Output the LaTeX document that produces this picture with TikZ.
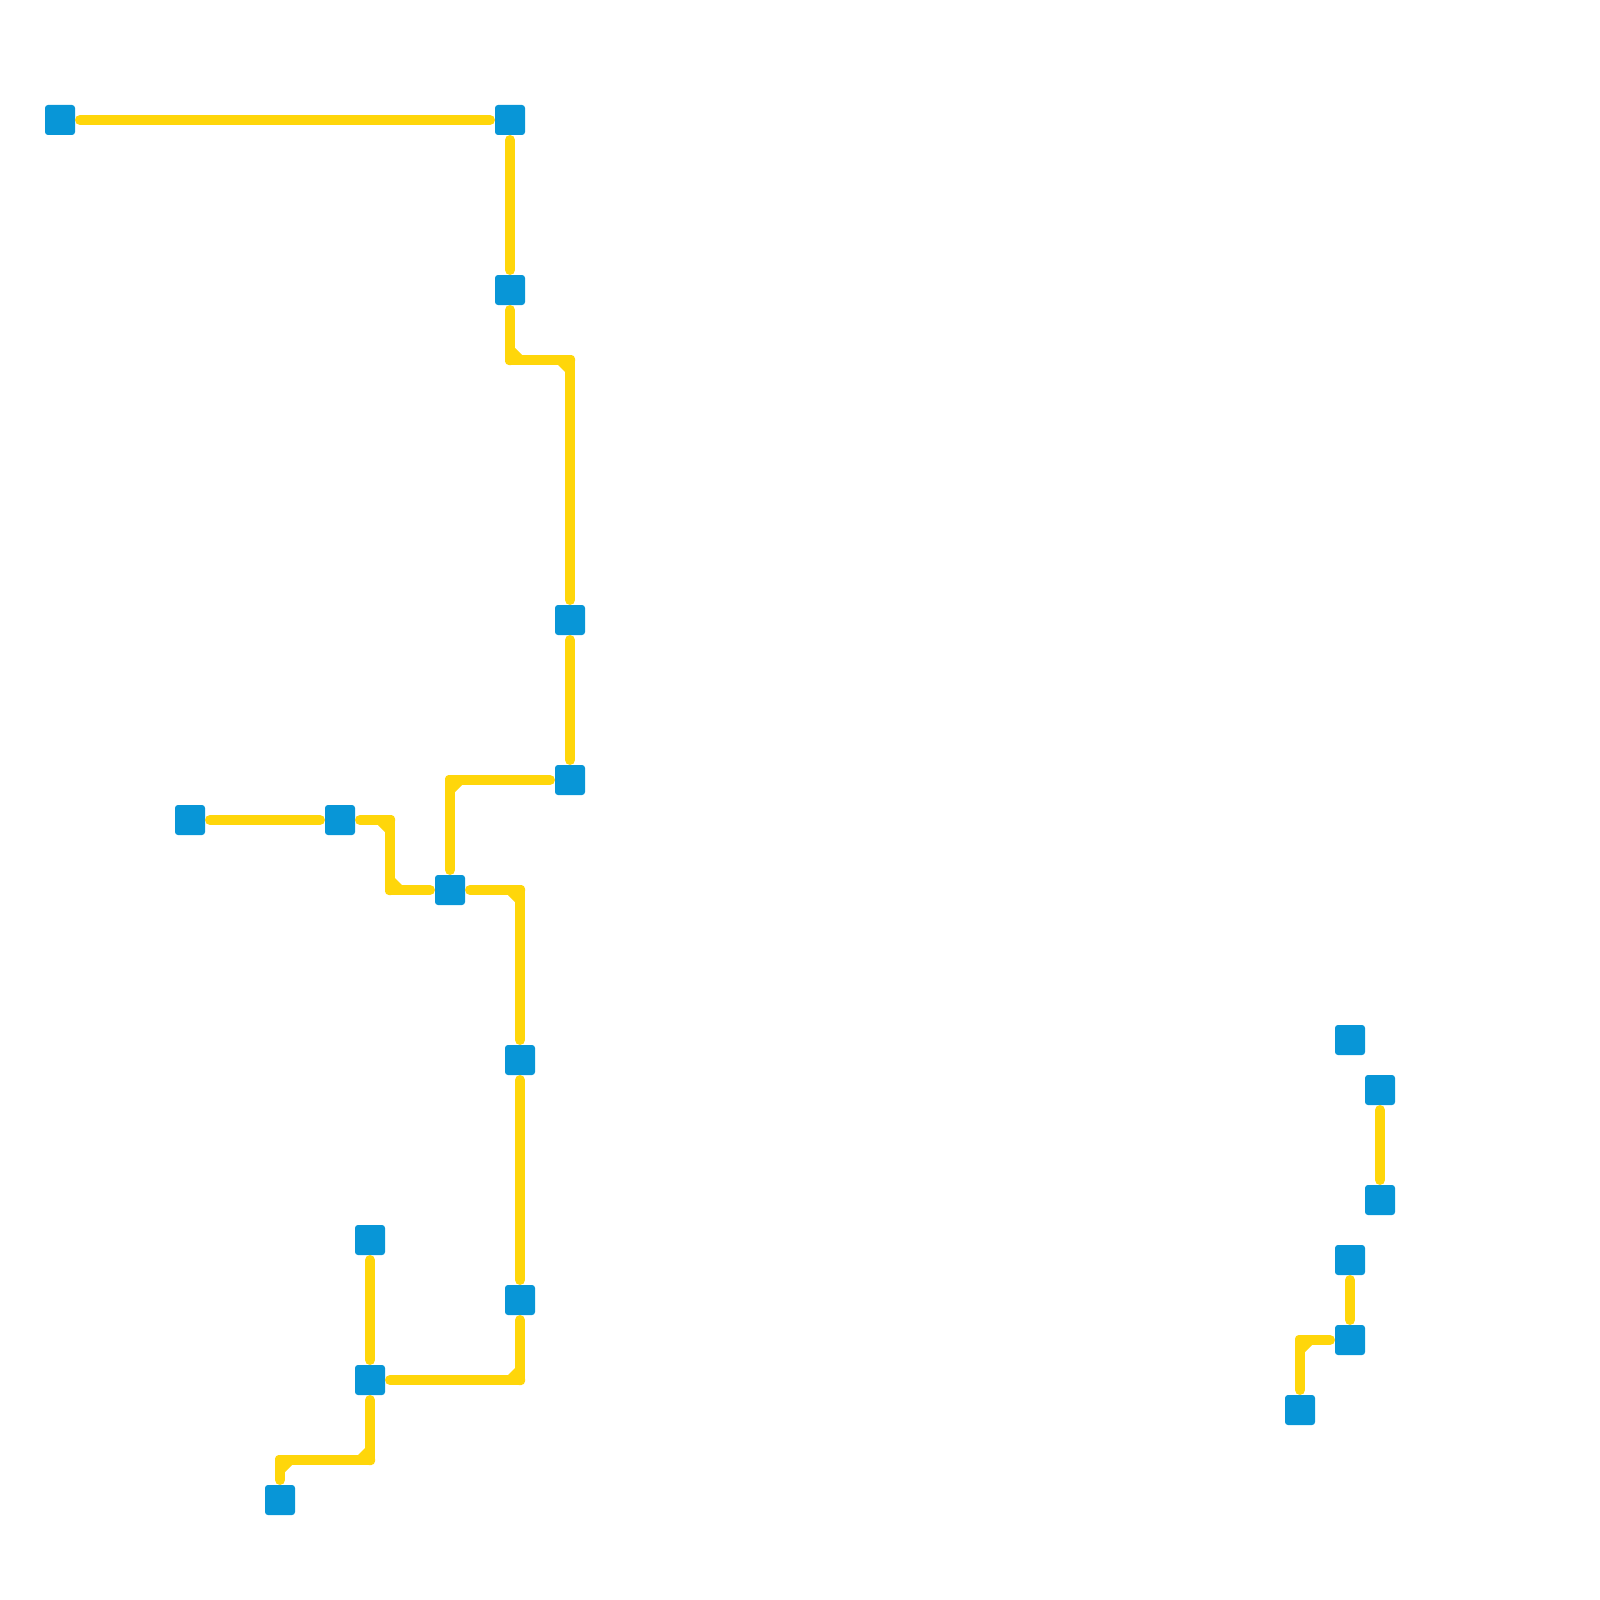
\documentclass[tikz,border=0pt]{standalone}
\definecolor{stopblue}{HTML}{0896D7}
\definecolor{lineyellow}{HTML}{FFD60A}
\tikzset{
  x=0.5pt,y=-0.5pt,
  stopbox/.style={fill=stopblue,draw=none,rectangle,rounded corners=1.5pt,minimum size=15pt,inner sep=0pt,outer sep=0pt},
  link/.style={draw=lineyellow,line width=5pt,line cap=round,line join=round,shorten <=10pt,shorten >=10pt},
  chamfer/.style={fill=lineyellow,draw=none}
}
% bend x, bend y, direction x, direction y towards the inside of the bend
\newcommand{\bendfill}[4]{%
  \fill[chamfer] (#1+5*#3,#2+5*#4) -- (#1+12*#3,#2+5*#4) -- (#1+5*#3,#2+12*#4) -- cycle;
  \fill[chamfer,rounded corners=1.9pt] (#1-5,#2-5) rectangle (#1+5,#2+5);}
\begin{document}
\begin{tikzpicture}
\useasboundingbox (0,0) rectangle (1600,1600);
\node[stopbox] (a) at (60,120) {};
\node[stopbox] (b) at (510,120) {};
\node[stopbox] (c) at (510,290) {};
\node[stopbox] (d) at (570,620) {};
\node[stopbox] (e) at (570,780) {};
\node[stopbox] (f) at (190,820) {};
\node[stopbox] (g) at (340,820) {};
\node[stopbox] (h) at (450,890) {};
\node[stopbox] (i) at (520,1060) {};
\node[stopbox] (j) at (520,1300) {};
\node[stopbox] (k) at (370,1240) {};
\node[stopbox] (l) at (370,1380) {};
\node[stopbox] (m) at (280,1500) {};
\node[stopbox] (n) at (1350,1040) {};
\node[stopbox] (o) at (1380,1090) {};
\node[stopbox] (p) at (1380,1200) {};
\node[stopbox] (q) at (1350,1260) {};
\node[stopbox] (r) at (1350,1340) {};
\node[stopbox] (s) at (1300,1410) {};
\coordinate (cd1) at (510,360);
\coordinate (cd2) at (570,360);
\coordinate (gh1) at (390,820);
\coordinate (gh2) at (390,890);
\coordinate (lm1) at (370,1460);
\coordinate (lm2) at (280,1460);
\draw[link] (a.center) -- (b.center);
\draw[link] (b.center) -- (c.center);
\draw[link] (c.center) -- (cd1) -- (cd2) -- (d.center);
\draw[link] (d.center) -- (e.center);
\draw[link] (e.center) -| (h.center);
\draw[link] (f.center) -- (g.center);
\draw[link] (g.center) -- (gh1) -- (gh2) -- (h.center);
\draw[link] (h.center) -| (i.center);
\draw[link] (i.center) -- (j.center);
\draw[link] (j.center) |- (l.center);
\draw[link] (k.center) -- (l.center);
\draw[link] (l.center) -- (lm1) -- (lm2) -- (m.center);
\draw[link] (o.center) -- (p.center);
\draw[link] (q.center) -- (r.center);
\draw[link] (r.center) -| (s.center);
\bendfill{510}{360}{1}{-1}
\bendfill{570}{360}{-1}{1}
\bendfill{450}{780}{1}{1}
\bendfill{390}{820}{-1}{1}
\bendfill{390}{890}{1}{-1}
\bendfill{520}{890}{-1}{1}
\bendfill{520}{1380}{-1}{-1}
\bendfill{370}{1460}{-1}{-1}
\bendfill{280}{1460}{1}{1}
\bendfill{1300}{1340}{1}{1}
\end{tikzpicture}
\end{document}
